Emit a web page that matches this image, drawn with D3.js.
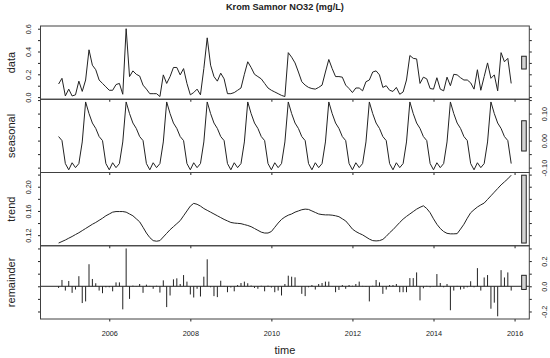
<!DOCTYPE html>
<html lang="en">
<head>
<meta charset="UTF-8">
<title>Krom Samnor NO32 STL</title>
<script src="https://d3js.org/d3.v7.min.js"></script>
<style>
  body { margin: 0; background: #fff; }
  text { font-family: "Liberation Sans", Arial, sans-serif; }
</style>
</head>
<body>
<svg width="550" height="358"></svg>
<script>
// monthly series, Oct 2004 .. Dec 2015
const startYear = 2004
const startMonth = 9 // 0-based, October

const dataVals = [
  0.115, 0.165, 0.01, 0.07, 0.01, 0.02, 0.14, 0.05, 0.15, 0.415, 0.28, 0.24,
  0.15, 0.12, 0.09, 0.06, 0.06, 0.11, 0.12, 0.025, 0.6, 0.18, 0.23, 0.20,
  0.185, 0.105, 0.07, 0.03, 0.03, 0.03, 0.005, 0.195, 0.12, 0.18, 0.26, 0.26,
  0.195, 0.25, 0.12, 0.02, 0.04, 0.07, 0.02, 0.25, 0.52, 0.28, 0.18, 0.14,
  0.21, 0.16, 0.03, 0.03, 0.04, 0.06, 0.08, 0.2, 0.31, 0.26, 0.2, 0.18,
  0.16, 0.12, 0.08, 0.06, 0.045, 0.03, 0.015, 0.005, 0.39, 0.35, 0.30, 0.22,
  0.135, 0.105, 0.085, 0.075, 0.07, 0.085, 0.105, 0.22, 0.33, 0.25, 0.18, 0.18,
  0.175, 0.105, 0.075, 0.04, 0.08, 0.08, 0.055, 0.135, 0.15, 0.22, 0.23, 0.195,
  0.085, 0.1, 0.06, 0.05, 0.085, 0.025, 0.045, 0.15, 0.365, 0.34, 0.335, 0.12,
  0.175, 0.16, 0.075, 0.07, 0.17, 0.07, 0.055, 0.175, 0.1, 0.2, 0.195, 0.17,
  0.15, 0.15, 0.125, 0.07, 0.24, 0.06, 0.18, 0.3, 0.165, 0.195, 0.055, 0.39,
  0.31, 0.34, 0.12
]

// seasonal component by calendar month, Jan..Dec
const seasonalByMonth = [-0.108, -0.082, -0.1, -0.085, -0.005, 0.143, 0.10, 0.065, 0.045, 0.015, 0.0, -0.085]

const trendVals = [
  0.107, 0.1095, 0.112, 0.115, 0.1178, 0.121, 0.124, 0.1275, 0.131, 0.1345, 0.138, 0.141,
  0.1445, 0.148, 0.152, 0.155, 0.158, 0.159, 0.159, 0.159, 0.158, 0.155, 0.152, 0.147,
  0.142, 0.133, 0.1235, 0.116, 0.111, 0.110, 0.111, 0.117, 0.123, 0.129, 0.134, 0.139,
  0.144, 0.152, 0.160, 0.168, 0.1725, 0.171, 0.168, 0.164, 0.161, 0.158, 0.155, 0.152,
  0.149, 0.146, 0.1435, 0.141, 0.140, 0.1395, 0.139, 0.1375, 0.136, 0.134, 0.131, 0.128,
  0.125, 0.1235, 0.1235, 0.126, 0.133, 0.140, 0.146, 0.150, 0.153, 0.155, 0.158, 0.160,
  0.162, 0.163, 0.1625, 0.160, 0.1575, 0.155, 0.154, 0.1535, 0.1535, 0.153, 0.152, 0.1505,
  0.147, 0.1435, 0.137, 0.130, 0.126, 0.123, 0.1205, 0.117, 0.1135, 0.111, 0.1105, 0.111,
  0.113, 0.118, 0.124, 0.129, 0.135, 0.141, 0.1465, 0.151, 0.155, 0.159, 0.163, 0.166,
  0.1685, 0.164, 0.157, 0.147, 0.138, 0.131, 0.126, 0.123, 0.1222, 0.1222, 0.1225, 0.130,
  0.138, 0.148, 0.157, 0.162, 0.1665, 0.170, 0.173, 0.179, 0.185, 0.191, 0.197, 0.203,
  0.208, 0.213, 0.219
]

const remainderVals = [
  -0.013, 0.05, -0.034, 0.042, -0.052, -0.026, 0.08, -0.133, -0.12, 0.175, 0.058, 0.024,
  -0.034, -0.055, -0.008, -0.008, -0.04, 0.031, 0.031, -0.183, 0.30, -0.1, 0.005, 0.002,
  0.018, -0.052, 0.013, 0.003, -0.02, 0.004, -0.05, 0.047, -0.165, -0.073, 0.055, 0.063,
  0.018, 0.089, 0.037, -0.065, -0.089, -0.02, -0.081, 0.076, 0.214, -0.008, -0.078, -0.086,
  0.044, 0.003, -0.047, -0.01, -0.04, 0.01, 0.026, 0.037, 0.024, 0.006, -0.013, -0.02,
  0.004, -0.04, 0.005, -0.01, -0.047, -0.034, -0.073, 0.018, 0.084, 0.076, 0.071, 0.002,
  -0.06, -0.078, -0.008, 0.01, -0.026, 0.018, 0.026, 0.037, 0.037, 0.002, -0.047, -0.029,
  0.01, -0.02, 0.01, 0.004, 0.018, 0.037, 0.003, -0.004, -0.12, 0.004, 0.05, 0.031,
  -0.06, -0.026, 0.01, 0.01, 0.018, -0.047, -0.047, -0.047, 0.065, 0.065, 0.11, -0.112,
  -0.016, 0.003, -0.008, 0.002, 0.097, 0.026, -0.008, 0.018, -0.19, -0.034, 0.003, -0.026,
  -0.02, -0.008, 0.04, -0.008, 0.144, -0.034, 0.07, 0.089, -0.178, -0.13, -0.238, 0.128,
  0.07, 0.11, -0.034
]

const yearTicks = [2006, 2008, 2010, 2012, 2014, 2016]
const chartTitle = "Krom Samnor NO32 (mg/L)"

let svg = d3.select("svg")
const plotLeft = 40.5, plotRight = 529.3, plotTop = 26, panelH = 73.25
const ink = "#222"

let times = dataVals.map(function (d, i) { return startYear + (startMonth + i) / 12 })
let seasonalVals = times.map(function (t, i) { return seasonalByMonth[(startMonth + i) % 12] })

// R pads the range by 4% on each side
function padded(ext) {
  let r = ext[1] - ext[0]
  return [ext[0] - 0.04 * r, ext[1] + 0.04 * r]
}

let x = d3.scaleLinear().domain(padded(d3.extent(times))).range([plotLeft, plotRight])

let panels = [
  { name: "data", vals: dataVals, side: "left", fmt: d3.format(".1f") },
  { name: "seasonal", vals: seasonalVals, side: "right", fmt: d3.format(".2f") },
  { name: "trend", vals: trendVals, side: "left", fmt: d3.format(".2f") },
  { name: "remainder", vals: remainderVals, side: "right", fmt: d3.format(".1f") }
]

// height of the range bars = smallest component range
let minRange = d3.min(panels, function (p) { let e = d3.extent(p.vals); return e[1] - e[0] })

// title
svg.append("text")
  .attr("x", (plotLeft + plotRight) / 2).attr("y", 10.3)
  .attr("text-anchor", "middle")
  .style("font-size", "9.2px").style("font-weight", "bold")
  .attr("fill", ink)
  .text(chartTitle)

panels.forEach(function (p, k) {
  let y0 = plotTop + k * panelH, y1 = y0 + panelH
  let ext = d3.extent(p.vals)
  let y = d3.scaleLinear().domain(padded(ext)).range([y1, y0])
  let g = svg.append("g")

  let ticks = y.ticks(5)
  let labelIt = function (d) {
    let i = ticks.indexOf(d)
    return i % 2 === 0 ? p.fmt(d).replace("\u2212", "-") : ""
  }

  // y axes on both sides, labels alternate sides
  let axL = g.append("g").attr("transform", `translate(${plotLeft},0)`)
    .call(d3.axisLeft(y).tickValues(ticks).tickSizeOuter(0).tickSize(2.5)
      .tickFormat(p.side === "left" ? labelIt : ""))
  let axR = g.append("g").attr("transform", `translate(${plotRight},0)`)
    .call(d3.axisRight(y).tickValues(ticks).tickSizeOuter(0).tickSize(2.5)
      .tickFormat(p.side === "right" ? labelIt : ""))
  axL.select(".domain").remove()
  axR.select(".domain").remove()
  axL.selectAll("text")
    .attr("x", null).attr("dy", null)
    .attr("transform", "translate(-9.5,0) rotate(-90)")
    .attr("text-anchor", "middle")
  axR.selectAll("text")
    .attr("x", null).attr("dy", null)
    .attr("transform", "translate(18,0) rotate(-90)")
    .attr("text-anchor", "middle")

  // x axis ticks under each panel, labels on the last one only
  let axB = g.append("g").attr("transform", `translate(0,${y1})`)
    .call(d3.axisBottom(x).tickValues(yearTicks).tickSizeOuter(0).tickSize(2.5)
      .tickFormat(k === panels.length - 1 ? d3.format("d") : ""))
  axB.select(".domain").remove()
  axB.selectAll("text").attr("y", 16.5).attr("dy", null)

  g.selectAll(".tick line").attr("stroke", ink)
  g.selectAll(".tick text").attr("fill", ink).style("font-size", "7.3px")
    .style("font-family", "'Liberation Sans', Arial, sans-serif")

  if (p.name === "remainder") {
    g.append("line")
      .attr("x1", plotLeft).attr("x2", plotRight)
      .attr("y1", y(0)).attr("y2", y(0))
      .attr("stroke", ink).attr("stroke-width", 1)
    g.selectAll(".hbar")
      .data(p.vals)
      .enter()
      .append("line")
      .attr("x1", function (d, i) { return x(times[i]) })
      .attr("x2", function (d, i) { return x(times[i]) })
      .attr("y1", y(0))
      .attr("y2", function (d) { return y(d) })
      .attr("stroke", ink).attr("stroke-width", 1)
  } else {
    g.append("path")
      .datum(p.vals)
      .attr("fill", "none")
      .attr("stroke", ink)
      .attr("stroke-width", 1)
      .attr("d", d3.line()
        .x(function (d, i) { return x(times[i]) })
        .y(function (d) { return y(d) }))
  }

  // range bar
  let dx = (x.domain()[1] - x.domain()[0]) / 64
  let xr = x.domain()[1]
  let mid = (ext[0] + ext[1]) / 2
  g.append("rect")
    .attr("x", x(xr - dx))
    .attr("width", x(xr - 0.4 * dx) - x(xr - dx))
    .attr("y", y(mid + minRange / 2))
    .attr("height", y(mid - minRange / 2) - y(mid + minRange / 2))
    .attr("fill", "#d3d3d3").attr("stroke", ink).attr("stroke-width", 1)

  // panel box
  g.append("rect")
    .attr("x", plotLeft).attr("y", y0)
    .attr("width", plotRight - plotLeft).attr("height", panelH)
    .attr("fill", "none").attr("stroke", "#404040").attr("stroke-width", 1)

  // panel label
  svg.append("text")
    .attr("transform", `translate(14.5,${(y0 + y1) / 2}) rotate(-90)`)
    .attr("text-anchor", "middle")
    .style("font-size", "11px")
    .attr("fill", ink)
    .text(p.name)
})

svg.append("text")
  .attr("x", (plotLeft + plotRight) / 2).attr("y", 354)
  .attr("text-anchor", "middle")
  .style("font-size", "11px")
  .attr("fill", ink)
  .text("time")
</script>
</body>
</html>
